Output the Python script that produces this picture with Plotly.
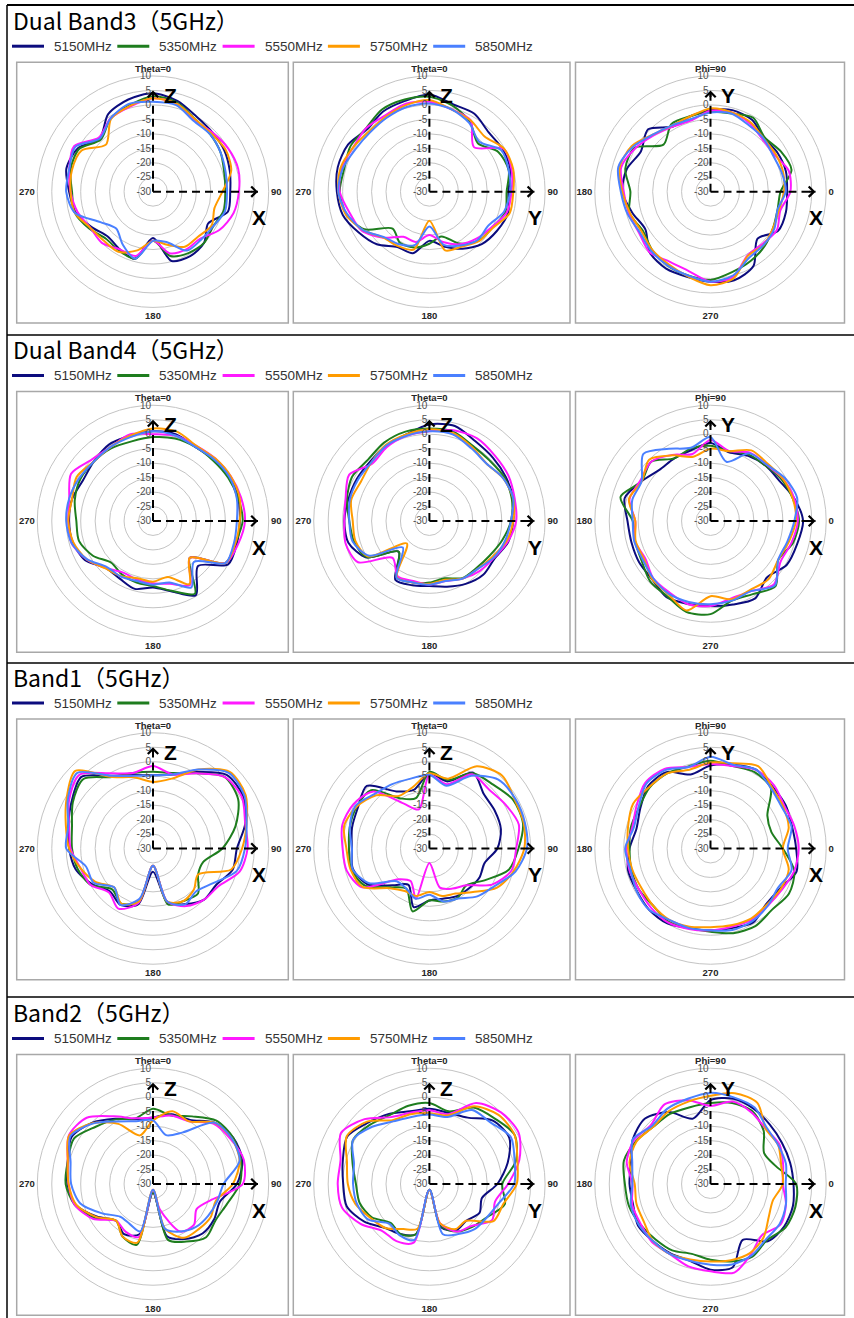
import plotly.graph_objects as go

W, H = 854, 1318

# ---------------- data ----------------
ANGLES = list(range(0, 360, 15))
FREQS = ["5150MHz", "5350MHz", "5550MHz", "5750MHz", "5850MHz"]
COLORS = ["#0c0c7e", "#1e7d1e", "#ff19ff", "#ff9b00", "#4a80ff"]
SECTIONS = ["Dual Band3（5GHz）", "Dual Band4（5GHz）", "Band1（5GHz）", "Band2（5GHz）"]
RADIAL_TICKS = [-30, -25, -20, -15, -10, -5, 0, 5, 10]
THETA_LABELS = ["<b>Theta=0</b>", "<b>90</b>", "<b>180</b>", "<b>270</b>"]
PHI_LABELS = ["<b>0</b>", "<b>Phi=90</b>", "<b>180</b>", "<b>270</b>"]
AXIS_LETTERS = [("Z", "X"), ("Z", "Y"), ("Y", "X")]

# Dual Band3 - Theta cut (XZ)
db3_xz_5150 = [4, 2.5, 0, -1, -1.5, -2.5, -3.3, -3.2, -8, -5, -4.3, -5.2, -14, -6, -7, -8, -5.5, -2.3, -1, 1, 0, -4, 1, 3]
db3_xz_5350 = [3, 2, -1, -2, -3, -4.5, -5, -4.7, -6, -5, -5.5, -7, -13, -6, -6.5, -7, -4.5, -2, -2, -0.5, -0.5, -4.5, -0.7, 1]
db3_xz_5550 = [2.3, 1.5, -1.5, -1, 0, 0.5, -0.3, -1.2, -3.5, -7, -7, -8, -13, -7, -7, -5, -5, -3, -1.5, 0, 1.5, -3.5, -0.7, 0.5]
db3_xz_5750 = [2.3, 1.5, -1, -1.5, -1, -2, -6, -8, -6.6, -8, -8, -11, -13, -9, -6, -6, -5, -2, -1.5, -1, -1.5, -7, -1, 0.7]
db3_xz_5850 = [1.1, 1, -1.8, -2, -3, -4, -4.4, -4.2, -6, -6.5, -6.5, -12, -13, -6, -9, -12, -9, -2, 0, 0, 1, -4, -0.7, 1.5]
# Dual Band3 - Theta cut (YZ)
db3_yz_5150 = [3.6, 1.3, 1.1, -1, -0.7, -1, -2.7, -1.8, -3, -4.4, -7.2, -10.4, -13, -8, -7.9, -4.3, -1.8, 1, 2, 2.8, 2.5, 0.5, 2, 2.5]
db3_yz_5350 = [2.8, 0.8, -2, -6.3, -2.5, -1.6, -3.3, -2.8, -5, -6, -9.3, -14, -12, -10, -9.6, -12, -4, -0.2, 1, 0.5, 1.5, 1, 2.8, 3]
db3_yz_5550 = [1.1, -0.5, -1.5, -8.2, -0.4, -0.6, -1.6, -2.3, -5.3, -7, -9, -12, -15, -12, -12, -7.5, -3, -1.5, 1, 1.5, 0.5, 1, 0.5, 1.5]
db3_yz_5750 = [1.7, -0.5, -1.5, -3, -0.2, 0, -1, -1.3, -4.8, -5.8, -8, -9, -20, -9.3, -8.3, -7.5, -3.5, 0, 1.5, 1.8, 0.5, -0.5, 0, 1]
db3_yz_5850 = [0.5, -0.5, -2.5, -5.6, -1.3, -1.6, -2.1, -3.3, -6.5, -6.4, -8.5, -11, -18, -11, -9, -7.8, -3.5, -0.5, 1.5, 1, -0.5, -1, -0.5, 0.3]
# Dual Band3 - Phi cut (XY)
db3_xy_5150 = [-3.5, -3, -3.2, -3.8, -1.3, -0.8, -1.8, -3, -4, 0.5, -2.2, 0, 0.5, -2, -4, -0.3, 0.7, 0.5, 1.1, 1.7, -0.3, -7, -3, -3]
db3_xy_5350 = [-5.8, -1, -2, -3.5, -0.5, -2, -2.4, -3, -3, -7, 0.3, 0.5, -2.3, -1, -3, -1.5, -0.5, 0, 0.5, -1.2, -2.3, -3.5, -5, -6]
db3_xy_5550 = [-2.4, -2, -4.5, -4.5, -2.8, -1.6, -2, -4.5, -4, -2.4, 0, 2, 0, -0.8, -1.5, -0.3, -2, -1.5, 1.1, 0.5, -4.5, -4.5, -3.5, -5]
db3_xy_5750 = [-4.6, -4, -4, -4, -2.3, -1.6, -1.2, -3, -3.5, -2, 1.5, 2.5, 0.5, -1.2, -2.5, -1.5, -1, 0.3, 2.3, 1, -4.3, -4, -5, -5.5]
db3_xy_5850 = [-4, -4.5, -5, -4, -3.5, -2, -2.6, -4, -3.5, -2, 1, 3, 1, -0.3, -1.8, -1, -0.5, 0, 1.1, 0, -3.5, -4, -4.5, -6]

# Dual Band4 - Theta cut (XZ)
db4_xz_5150 = [1, 1, -0.5, 0, 0.5, 0.5, 0, 0, 0, -8, -0.4, -4.8, -7, -5.7, -7, -7, -2.9, -1.3, -1, -1, -2, -1, 0.5, 0.5]
db4_xz_5350 = [-1, -0.5, -0.5, -0.5, 0, 0.5, 1, -0.5, -1, -12, -1, -5, -7.5, -8, -8.6, -9.6, -6, -3.5, -3.5, -2, -1, -1, -1, -1.5]
db4_xz_5550 = [0, 0.5, 0, 0.5, 1, 1.5, 1.8, 0.5, -1, -12, -4.4, -7.5, -8.5, -9, -9.4, -7, -3.5, -0.8, -0.7, 0, 2.7, 0, -0.5, 1]
db4_xz_5750 = [2, 2, 0, 0.5, 1, 1, 0, -0.5, -1, -12, -4.8, -10, -9, -9.5, -8, -6.8, -3.5, -1.5, -0.7, -1, 0.5, -1, -0.5, 0.5]
db4_xz_5850 = [1, 0.5, -0.5, 0, 0.5, 0, -1, -1, -1, -10, -3.5, -8, -8, -8.5, -7.8, -7.5, -3.6, -0.8, 0, 0, -0.5, -1, -0.5, 0]
# Dual Band4 - Theta cut (YZ)
db4_yz_5150 = [3.4, 4, 1.8, 1, 0.5, 0, -1, -1.8, -4, -3.7, -4.9, -6.5, -7.5, -7, -6.5, -15, -4.8, -1, -0.6, -1, -1, -1, 0, 1]
db4_yz_5350 = [2, 2, 0, -0.5, 0, -0.5, -1.8, -4, -6, -7, -7.2, -9.5, -8.7, -8, -7.5, -15, -5, -3, -2.3, -0.5, 0.8, 0, 1.3, 2]
db4_yz_5550 = [1, 2.5, 3, 2, 1.5, 0.5, 0, -2, -4.3, -5.5, -7, -8.5, -8, -8.5, -8, -12, -1.5, 0, -0.6, 0, 2, -2, -0.5, 0.5]
db4_yz_5750 = [1.7, 1.5, -0.5, -2, -0.5, 0, -1, -2.5, -5, -6.5, -7, -9, -8.3, -8, -7.5, -19, -5.5, -3.5, -3.5, -2, -2.7, -1.5, 0.3, 1]
db4_yz_5850 = [1, 1, -1, -2, -0.5, 0, -1.8, -3, -4.5, -6.5, -7, -8.5, -8, -8, -7.3, -17, -6, -2.5, -2.3, -1.5, -1.5, -1.5, 0, 0.5]
# Dual Band4 - Phi cut (XY)
db4_xy_5150 = [2, 0, -2.4, -3, -4, -5.4, -3, -4.6, -5, -5, -2.5, 0.7, -1.3, -1.7, -1.5, -1.5, 0.4, -0.3, -0.6, -0.1, 0.9, -2.4, 0.4, 1]
db4_xy_5350 = [0.6, -0.5, -1.5, -3, -3.5, -5, -4, -4, -5, -1, -2.5, 2.2, -3.1, -3, -2.5, -0.5, 0, 2.5, 2.2, -1.5, -0.8, 1.8, -3, -0.5]
db4_xy_5550 = [0.2, 0, -1, -2.5, -2.7, -5, -2, -6, -3.6, -1, -2, -1, -4, -3, -4, -2, -1.5, -0.2, -0.6, -2.3, -2, 1, -2, -1]
db4_xy_5750 = [-0.5, -0.5, -1, -2, -1.8, -5, -5, -7, -3.8, 0, -2.6, -0.8, -4, -3.2, -3.5, -1.5, -0.8, 2, -4, -2, -2.5, -1.6, -3, -2]
db4_xy_5850 = [-1, 1, -0.3, -2.5, -3, -8.8, -1, -3.8, -1.2, 2.8, -2.5, -2, -3.1, -2.7, -3, -2, -1, -1, -1.2, -1.5, -2, 1.5, -3, -2.5]

# Band1 - Theta cut (XZ)
b1_xz_5150 = [-4.7, -3.5, 0.5, 6, 6, 3, -1, -1.5, -4.8, -5, -7.8, -10.7, -22, -10, -7.5, -9, -5.5, -2.3, -1, 0.3, 2.5, 5, -1, -3.7]
b1_xz_5350 = [-3.5, -3, 0, 5, 4, -0.5, -6, -12, -12, -8, -9, -10, -24, -11, -8, -10, -5, -3, -2, -1, 2, 4, -1.5, -3]
b1_xz_5550 = [-1.5, -3.5, 0, 5, 5.5, 3, 2.7, 1, -3.9, -5, -7, -11, -24, -10.5, -6, -8.5, -5, -4, -1.5, 0, 3.5, 6, 0, -3]
b1_xz_5750 = [-7, -5, 1.5, 7.5, 7, 3.5, 0.8, -2, -12, -10, -9, -11, -24, -11, -8, -11, -7, -4, -1, 1.2, 4.5, 8, -1.5, -4.5]
b1_xz_5850 = [-4.7, -3.5, 1.5, 7, 6.5, 3.5, 1.8, 0, -6, -9, -7.7, -11, -24, -12, -7.5, -11, -6.3, -6, 0, 0.3, 4, 7, -1, -4]
# Band1 - Theta cut (YZ)
b1_yz_5150 = [-4, -6, 0.3, -3.4, -3.9, -4.4, -6.5, -10.3, -10, -10.6, -11, -12, -12, -9, -15.5, -12, -5.3, -2.6, -3.2, -2.3, -1.5, 0.6, -7.2, -9]
b1_yz_5350 = [-3.5, -5.5, 0, 1.2, 3.5, 3.5, 0.8, -1.6, -8, -12, -10.4, -11, -12, -7.5, -14, -11, -4.3, -2, -2.2, -1.5, -1, -1.5, -10, -12]
b1_yz_5550 = [-4.5, -7, -0.4, -1, 0.4, 2, 0, -0.6, -5, -12, -14, -16, -25, -12, -17, -15, -3.2, -0.4, 0, 1.2, 0.4, -2.2, -12, -16]
b1_yz_5750 = [-4, -5, 2.8, 5.6, 4, 3.8, 2.8, 0.2, -3, -8.7, -12, -13, -15, -13, -13, -10.6, -3.4, -1.8, -1.3, 0.5, -1, -4, -9, -8]
b1_yz_5850 = [-4.5, -7.5, -1, 3.7, 4.3, 4.2, 3.7, 0.8, -4, -6.6, -10, -11, -14, -12, -14, -14, -6, -2.5, -3.2, -1.5, -0.5, -3.3, -4.3, -5]
# Band1 - Phi cut (XY)
b1_xy_5150 = [-0.4, -0.8, 0, 0.3, 1.5, 0, -1.3, -3.5, 0.5, 0.5, -2, -3.5, -2, -0.5, -0.6, 0, -0.1, -1.5, -1.7, -1.5, -0.5, -2.8, -2.3, 0.8]
b1_xy_5350 = [-5, -8.2, -7.3, -0.5, 0.5, -0.5, 0.3, -0.6, 0, -0.2, -1.5, -1.5, -2, -1.7, -1.5, -2, -0.8, -1.5, -1.2, 0.3, 1, 0, 1.3, 0]
b1_xy_5550 = [0.5, 0, -0.5, 1, 1.4, -0.5, -0.8, -0.8, 1.8, 2, -0.5, -2, -1, -1, -1.5, -1, -0.5, -1.2, -1.7, -2, -1.5, -2, -1.5, 0]
b1_xy_5750 = [-5, -2, -1, 0, 2.9, 0.5, -0.3, -1.8, 0, 0, 0.9, -0.5, -1.5, -2, -2.5, -2, -1.5, -2, -2.8, -2.5, -2, -2.5, -2, -2]
b1_xy_5850 = [-3.3, -1, -1.5, -0.5, 1.5, 0, 1.7, -0.8, 1.3, 1.5, -1.3, -2.5, -0.5, -1.4, -0.5, 0, -1.5, -1.5, -1.7, -0.8, -1, -2, -3, -1]

# Band2 - Theta cut (XZ)
b2_xz_5150 = [-7, -5, -4.4, 0, 2, 2, -1, -6.1, -5.6, -5.8, -8, -11.3, -27, -12, -10, -12, -7.5, -2.3, -0.4, 0.5, 2.5, -0.1, -4, -6.8]
b2_xz_5350 = [-4, -5.5, -3, 1, 2, 1.5, 0, -3.5, -5, -4, -7, -10, -27, -8.2, -9, -12, -6.5, -2, 0.2, 0.5, 1.5, -2, -4.2, -6.5]
b2_xz_5550 = [-7, -5.5, -5, -0.5, 1, 2.5, 1, -9, -12.6, -10, -11, -21, -28, -11, -11, -12, -6, -2, -0.8, 0.5, 3.6, 2.4, -3, -6.5]
b2_xz_5750 = [-8, -4, -5, 0, 1.5, 1, -2.4, -7.5, -7, -7.8, -8.5, -14, -28, -9, -9, -12, -7.3, -2.5, -0.8, 0.5, 3.5, -0.3, -6, -12.6]
b2_xz_5850 = [-8, -12.5, -9.4, 0, 1.5, 1, -5.6, -7, -8, -9, -11, -14, -28, -13, -14, -14, -9.7, -4, -1.7, -0.5, 3, -0.5, -5, -7.5]
# Band2 - Theta cut (YZ)
b2_yz_5150 = [-4, -4.5, -3.5, 1, 1.9, -2, -6.5, -11.2, -10, -12, -11.5, -14.5, -28, -12, -10, -8.5, -4, -0.4, -0.2, 1, 2.8, 0, -2, -4]
b2_yz_5350 = [-2, -4, 0.5, 2, 4, 1, -4.8, -3, -7, -9, -11, -15, -28, -12, -10, -11, -7, -5, -4.6, -2.5, 0.5, -1, -2.5, -2]
b2_yz_5550 = [-4.5, -5, 2.3, 5, 5.6, 2.2, -2.8, -6.5, -5, -9.5, -11, -16, -28, -9, -7.2, -7, -2.5, 1.3, 1.7, 1.8, 5.3, 1.7, -3.3, -4.5]
b2_yz_5750 = [-5.5, -5.5, 1, 3.8, 4, 1.5, 0.2, -3.5, -4.4, -12, -12, -16, -28, -14, -12, -8.5, -6.5, -3.5, -1.8, -0.5, 3, 0.5, -4.5, -5]
b2_yz_5850 = [-6, -6, -0.5, 0, 2.5, 0.5, -0.7, -5, -7, -7.9, -10, -12, -28, -10, -9.5, -10.5, -5.5, -4, -3.6, -3, 0.5, -2, -5, -6]
# Band2 - Phi cut (XY)
b2_xy_5150 = [-1.3, -1.5, -1.5, -1, 0, 0.5, -1, -6.6, -1.3, 2, 1, -1.5, -2, -2.3, -1.1, -2, -2.3, -2.5, -0.4, -0.2, -7.7, -2, -0.6, -0.5]
b2_xy_5350 = [-0.4, -6.5, -8.6, -4, -1, -1, -2, -2.5, -2, -2, -0.3, 1, -0.4, -0.8, -2, -3, -3.5, -5, -3.8, -2.3, -1, -2.5, 0, 0.4]
b2_xy_5550 = [-5, -4, -2.5, -3, -1.5, -0.5, -3, 0, 1.8, -1, 0.5, 0, -3, -2, -2.2, -1.5, -2, -0.5, 0.2, 1.7, -2, -4.9, -2, -3]
b2_xy_5750 = [-5, -4.7, -3, -3, 2.4, 2.5, 0.5, -0.5, -1, -2, -0.5, -1, -3.8, -3.5, -3.5, -2, -2, -3, -3.2, -2.7, -2.5, -4, -6.8, -7.7]
b2_xy_5850 = [-4, -3, -3, -2.5, 0.5, 1, 1.5, 0.5, 0, -1.5, 1, -2, -3, -1.5, -1.5, -2, -2, -2.5, -2.1, -1.2, -1.5, -2.9, -2.4, -3]

PANELS = [
    [[db3_xz_5150, db3_xz_5350, db3_xz_5550, db3_xz_5750, db3_xz_5850],
     [db3_yz_5150, db3_yz_5350, db3_yz_5550, db3_yz_5750, db3_yz_5850],
     [db3_xy_5150, db3_xy_5350, db3_xy_5550, db3_xy_5750, db3_xy_5850]],
    [[db4_xz_5150, db4_xz_5350, db4_xz_5550, db4_xz_5750, db4_xz_5850],
     [db4_yz_5150, db4_yz_5350, db4_yz_5550, db4_yz_5750, db4_yz_5850],
     [db4_xy_5150, db4_xy_5350, db4_xy_5550, db4_xy_5750, db4_xy_5850]],
    [[b1_xz_5150, b1_xz_5350, b1_xz_5550, b1_xz_5750, b1_xz_5850],
     [b1_yz_5150, b1_yz_5350, b1_yz_5550, b1_yz_5750, b1_yz_5850],
     [b1_xy_5150, b1_xy_5350, b1_xy_5550, b1_xy_5750, b1_xy_5850]],
    [[b2_xz_5150, b2_xz_5350, b2_xz_5550, b2_xz_5750, b2_xz_5850],
     [b2_yz_5150, b2_yz_5350, b2_yz_5550, b2_yz_5750, b2_yz_5850],
     [b2_xy_5150, b2_xy_5350, b2_xy_5550, b2_xy_5750, b2_xy_5850]],
]

# ---------------- layout geometry (pixels) ----------------
SEC_CY = [191.7, 521.0, 848.5, 1184.0]
PAN_CX = [153.0, 429.4, 710.5]
R_PX = 115.7
BOX_X = [(16.7, 288.3), (293.3, 570.0), (575.5, 844.5)]
SEP_Y = [335, 663, 997]
UP_TIP_R = 5.0
RIGHT_TIP_R = 6.3


def px(x):
    return x / W


def py(y):
    return 1 - y / H


def r2px(r):
    return (r + 30) / 40 * R_PX


fig = go.Figure()
shapes = []
annotations = []
layout_polars = {}

for si in range(4):
    cy = SEC_CY[si]
    # title
    annotations.append(dict(x=px(11), y=py(cy - 171.7), xref="paper", yref="paper",
                            text=SECTIONS[si], showarrow=False, xanchor="left", yanchor="middle",
                            font=dict(family="Noto Sans CJK JP", size=23, color="#000")))
    # legend
    ly = cy - 145.5
    for fi in range(5):
        x0 = 12 + fi * 105.3
        shapes.append(dict(type="line", xref="paper", yref="paper", x0=px(x0), x1=px(x0 + 32),
                           y0=py(ly), y1=py(ly), line=dict(color=COLORS[fi], width=3)))
        annotations.append(dict(x=px(x0 + 40), y=py(ly), xref="paper", yref="paper",
                                text=FREQS[fi], showarrow=False, xanchor="left", yanchor="middle",
                                font=dict(family="Liberation Sans", size=13.5, color="#333")))
    for pi in range(3):
        idx = si * 3 + pi + 1
        key = "polar" if idx == 1 else f"polar{idx}"
        cx = PAN_CX[pi]
        # panel frame
        shapes.append(dict(type="rect", xref="paper", yref="paper",
                           x0=px(BOX_X[pi][0]), x1=px(BOX_X[pi][1]),
                           y0=py(cy + 131.3), y1=py(cy - 129.4),
                           line=dict(color="#a8a8a8", width=1.5), fillcolor="rgba(0,0,0,0)"))
        is_phi = pi == 2
        layout_polars[key] = dict(
            domain=dict(x=[px(cx - R_PX), px(cx + R_PX)], y=[py(cy + R_PX), py(cy - R_PX)]),
            bgcolor="rgba(0,0,0,0)",
            radialaxis=dict(range=[-30, 10], tickvals=RADIAL_TICKS,
                            ticktext=[str(v) for v in RADIAL_TICKS],
                            angle=90, tickangle=90, side="counterclockwise",
                            showline=False, ticks="", gridcolor="#c4c4c4", gridwidth=1,
                            tickfont=dict(family="Liberation Sans", size=10, color="#505050")),
            angularaxis=dict(rotation=0 if is_phi else 90,
                             direction="counterclockwise" if is_phi else "clockwise",
                             tickvals=[0, 90, 180, 270],
                             ticktext=PHI_LABELS if is_phi else THETA_LABELS,
                             showgrid=False, showline=True, linecolor="#c4c4c4", linewidth=1,
                             ticks="",
                             tickfont=dict(family="Liberation Sans", size=9.5, color="#262626")),
        )
        for fi in range(5):
            vals = PANELS[si][pi][fi]
            fig.add_trace(go.Scatterpolar(
                r=vals + [vals[0]], theta=ANGLES + [360], mode="lines",
                line=dict(color=COLORS[fi], width=2, shape="spline", smoothing=0.8),
                subplot=key, showlegend=False, hoverinfo="skip", name=FREQS[fi]))
        up_t = 90 if is_phi else 0
        right_t = 0 if is_phi else 90
        for t, rt in ((up_t, UP_TIP_R), (right_t, RIGHT_TIP_R)):
            fig.add_trace(go.Scatterpolar(
                r=[-30, rt], theta=[t, t], mode="lines",
                line=dict(color="black", width=2, dash="8px,5px"),
                subplot=key, showlegend=False, hoverinfo="skip"))
        # arrow heads
        annotations.append(dict(x=px(cx), y=py(cy - r2px(UP_TIP_R)), xref="paper", yref="paper",
                                ax=0, ay=8, showarrow=True, arrowhead=4, arrowsize=1,
                                arrowwidth=2, arrowcolor="black", text=""))
        annotations.append(dict(x=px(cx + r2px(RIGHT_TIP_R)), y=py(cy), xref="paper", yref="paper",
                                ax=-8, ay=0, showarrow=True, arrowhead=4, arrowsize=1,
                                arrowwidth=2, arrowcolor="black", text=""))
        up_l, right_l = AXIS_LETTERS[pi]
        annotations.append(dict(x=px(cx + 17.5), y=py(cy - 96), xref="paper", yref="paper",
                                xanchor="center", yanchor="middle",
                                text=f"<b>{up_l}</b>", showarrow=False,
                                font=dict(family="Liberation Sans", size=21, color="#000")))
        annotations.append(dict(x=px(cx + 105.5), y=py(cy + 26), xref="paper", yref="paper",
                                xanchor="center", yanchor="middle",
                                text=f"<b>{right_l}</b>", showarrow=False,
                                font=dict(family="Liberation Sans", size=21, color="#000")))

# black frame lines
shapes.append(dict(type="line", xref="paper", yref="paper", x0=px(7), x1=1, y0=py(5), y1=py(5),
                   line=dict(color="black", width=2)))
shapes.append(dict(type="line", xref="paper", yref="paper", x0=px(7), x1=px(7), y0=py(5), y1=0,
                   line=dict(color="black", width=1.5)))
for sy in SEP_Y:
    shapes.append(dict(type="line", xref="paper", yref="paper", x0=px(7), x1=1, y0=py(sy), y1=py(sy),
                       line=dict(color="black", width=1.5)))

fig.update_layout(
    width=W, height=H, margin=dict(l=0, r=0, t=0, b=0),
    paper_bgcolor="white", plot_bgcolor="white",
    showlegend=False, shapes=shapes, annotations=annotations,
    **layout_polars,
)

fig.write_html("out.html", config={"displayModeBar": False},
               post_script="document.body.style.margin='0';document.body.style.padding='0';document.body.style.overflow='hidden';")
